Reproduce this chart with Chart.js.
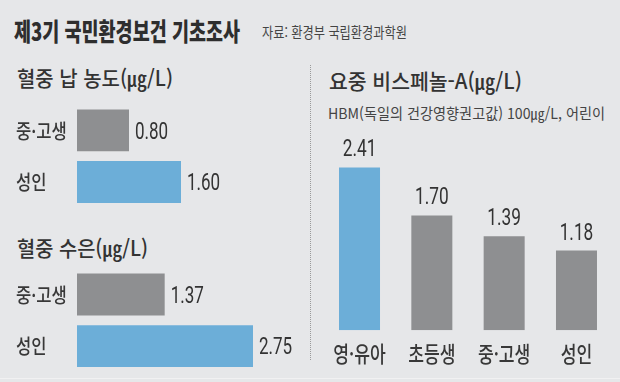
<!DOCTYPE html>
<html lang="ko">
<head>
<meta charset="utf-8">
<script src="https://cdn.jsdelivr.net/npm/chart.js@4/dist/chart.umd.min.js"></script>
<style>
  html, body { margin: 0; padding: 0; }
  body { width: 620px; height: 382px; background: #e6e7e9; position: relative; overflow: hidden;
         font-family: "Noto Sans CJK KR", sans-serif; }
  .t { position: absolute; white-space: nowrap; line-height: 1; transform-origin: 0 0; }
  canvas { position: absolute; }
  #sep { position: absolute; left: 310px; top: 65px; height: 295px; width: 0; border-left: 1px dotted #9a9a9a; }
  #bline { position: absolute; left: 0; top: 378px; width: 620px; height: 1px; background: #f1f1f2; }
</style>
</head>
<body>
<div class="t" id="title" data-w="226" style="left:14px;top:18px;font-size:25px;font-weight:900;color:#2e2e2e;">제3기 국민환경보건 기초조사</div>
<div class="t" id="source" data-w="145" style="left:262px;top:24.4px;font-size:15px;color:#444;">자료: 환경부 국립환경과학원</div>
<div class="t" id="h1" data-w="156" style="left:17px;top:66.8px;font-size:21px;font-weight:500;color:#333;">혈중 납 농도(㎍/L)</div>
<div class="t" id="h2" data-w="131" style="left:17px;top:237.1px;font-size:21px;font-weight:500;color:#333;">혈중 수은(㎍/L)</div>
<div class="t" id="h3" data-w="193" style="left:329px;top:69.8px;font-size:21px;font-weight:500;color:#333;">요중 비스페놀-A(㎍/L)</div>
<div class="t" id="sub" data-w="277" style="left:328px;top:105px;font-size:15px;color:#444;">HBM(독일의 건강영향권고값) 100㎍/L, 어린이</div>
<div id="sep"></div>
<div id="bline"></div>
<canvas id="c1" width="300" height="125" style="left:0;top:95px"></canvas>
<canvas id="c2" width="300" height="127" style="left:0;top:255px"></canvas>
<canvas id="c3" width="310" height="262" style="left:310px;top:120px"></canvas>
<script>
// ---- data ----
const leadCategories = ['중·고생', '성인'];
const leadValues = [0.80, 1.60];
const mercuryCategories = ['중·고생', '성인'];
const mercuryValues = [1.37, 2.75];
const bpaCategories = ['영·유아', '초등생', '중·고생', '성인'];
const bpaValues = [2.41, 1.70, 1.39, 1.18];

// ---- styles ----
const GRAY = '#8e8f91';
const BLUE = '#6caed8';
const LABEL = '#383838';
const KFONT = '"Noto Sans CJK KR", sans-serif';
const NFONT = 'Roboto, "Liberation Sans", sans-serif';

function condensed(ctx, text, x, y, sx, align) {
  ctx.save();
  ctx.translate(x, y);
  ctx.scale(sx, 1);
  ctx.textAlign = align;
  ctx.textBaseline = 'alphabetic';
  ctx.fillText(text, 0, 0);
  ctx.restore();
}

const hLabels = {
  id: 'hLabels',
  afterDatasetsDraw(chart) {
    const ctx = chart.ctx;
    const cats = chart.data.labels;
    const vals = chart.data.datasets[0].data;
    chart.getDatasetMeta(0).data.forEach((bar, i) => {
      ctx.fillStyle = LABEL;
      ctx.font = '500 20px ' + KFONT;
      condensed(ctx, cats[i], 16, bar.y + 8.2, 0.83, 'left');
      ctx.fillStyle = '#333';
      ctx.font = '23px ' + NFONT;
      condensed(ctx, vals[i].toFixed(2), bar.x + 6, bar.y + 8.2, 0.74, 'left');
    });
  }
};

const vLabels = {
  id: 'vLabels',
  afterDatasetsDraw(chart) {
    const ctx = chart.ctx;
    const cats = chart.data.labels;
    const vals = chart.data.datasets[0].data;
    chart.getDatasetMeta(0).data.forEach((bar, i) => {
      ctx.fillStyle = '#333';
      ctx.font = '24px ' + NFONT;
      condensed(ctx, vals[i].toFixed(2), bar.x, bar.y - 11, 0.72, 'center');
      ctx.fillStyle = LABEL;
      ctx.font = '500 22px ' + KFONT;
      condensed(ctx, cats[i], bar.x, chart.chartArea.bottom + 31.5, 0.78, 'center');
    });
  }
};

function hChart(id, cats, vals, highlight, max, padding) {
  return new Chart(document.getElementById(id), {
    type: 'bar',
    data: {
      labels: cats,
      datasets: [{
        data: vals,
        backgroundColor: vals.map((v, i) => i === highlight ? BLUE : GRAY),
        borderWidth: 0,
        barPercentage: 0.81,
        categoryPercentage: 1
      }]
    },
    options: {
      indexAxis: 'y',
      responsive: false,
      animation: false,
      devicePixelRatio: 1,
      layout: { padding },
      plugins: { legend: { display: false }, tooltip: { enabled: false } },
      scales: {
        x: { display: false, min: 0, max },
        y: { display: false }
      }
    },
    plugins: [hLabels]
  });
}

hChart('c1', leadCategories, leadValues, 1, 3, { left: 77, right: 28, top: 9.5, bottom: 12.1 });
hChart('c2', mercuryCategories, mercuryValues, 1, 3, { left: 77, right: 31, top: 13.6, bottom: 10 });

new Chart(document.getElementById('c3'), {
  type: 'bar',
  data: {
    labels: bpaCategories,
    datasets: [{
      data: bpaValues,
      backgroundColor: bpaValues.map((v, i) => i === 0 ? BLUE : GRAY),
      borderWidth: 0,
      barPercentage: 0.567,
      categoryPercentage: 1
    }]
  },
  options: {
    responsive: false,
    animation: false,
    devicePixelRatio: 1,
    layout: { padding: { left: 13.35, right: 7.35, top: 7.5, bottom: 51.7 } },
    plugins: { legend: { display: false }, tooltip: { enabled: false } },
    scales: {
      x: { display: false },
      y: { display: false, min: 0, max: 3 }
    }
  },
  plugins: [vLabels]
});

// condense headings to the reference widths
document.querySelectorAll('.t').forEach(el => {
  const nat = el.getBoundingClientRect().width;
  el.style.transform = 'scaleX(' + (parseFloat(el.dataset.w) / nat) + ')';
});
</script>
</body>
</html>
